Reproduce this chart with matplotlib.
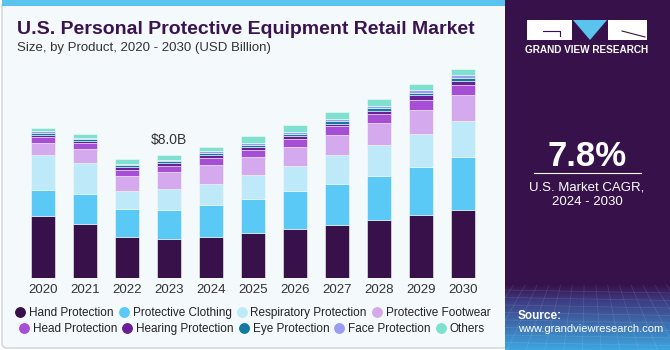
import numpy as np
import matplotlib.pyplot as plt
from matplotlib.patches import Rectangle, Polygon, FancyBboxPatch
from matplotlib.lines import Line2D

plt.rcParams['font.family'] = ['Liberation Sans', 'DejaVu Sans']

years = ["2020", "2021", "2022", "2023", "2024", "2025",
         "2026", "2027", "2028", "2029", "2030"]

hand = [4.05, 3.52, 2.68, 2.50, 2.66, 2.89, 3.15, 3.46, 3.74, 4.06, 4.41]
clothing = [1.67, 1.90, 1.77, 1.93, 2.08, 2.25, 2.46, 2.66, 2.90, 3.14, 3.41]
respiratory = [2.23, 2.06, 1.21, 1.36, 1.38, 1.54, 1.67, 1.84, 1.99, 2.16, 2.36]
footwear = [0.78, 0.89, 0.97, 1.06, 1.19, 1.17, 1.23, 1.32, 1.43, 1.54, 1.69]
head = [0.39, 0.39, 0.39, 0.43, 0.48, 0.47, 0.52, 0.54, 0.58, 0.65, 0.67]
hearing = [0.13, 0.11, 0.17, 0.17, 0.15, 0.17, 0.17, 0.19, 0.21, 0.28, 0.24]
eye = [0.16, 0.11, 0.13, 0.13, 0.13, 0.15, 0.15, 0.17, 0.17, 0.19, 0.19]
face = [0.13, 0.11, 0.09, 0.10, 0.13, 0.13, 0.13, 0.13, 0.15, 0.17, 0.17]
others = [0.20, 0.26, 0.28, 0.30, 0.30, 0.41, 0.41, 0.45, 0.45, 0.41, 0.43]

names = ["Hand Protection", "Protective Clothing", "Respiratory Protection",
         "Protective Footwear", "Head Protection", "Hearing Protection",
         "Eye Protection", "Face Protection", "Others"]
colors = ["#38104a", "#5bc9f5", "#bde9f9", "#d5a9ed", "#a64fd6",
          "#6a1f99", "#127a9e", "#9a9cf5", "#7ee0cf"]
series = [hand, clothing, respiratory, footwear, head, hearing, eye, face, others]

label_year = "2023"
label_text = "$8.0B"

bg = "#f4f9fc"
dark = "#37124a"

W, H = 670, 350
fig = plt.figure(figsize=(6.7, 3.5), dpi=100)
fig.patch.set_facecolor("white")

# card backgrounds
fig.patches.append(FancyBboxPatch((2 / W, 2 / H), 506 / W, 346 / H,
                                  boxstyle="round,pad=0,rounding_size=0.01",
                                  transform=fig.transFigure, facecolor=bg,
                                  edgecolor="#cfd3d6", lw=1.0, zorder=0))
fig.patches.append(Rectangle((2 / W, 344 / H), 506 / W, 6 / H,
                             transform=fig.transFigure, facecolor="#5ac4ee",
                             edgecolor="none", zorder=1))

# bar chart
ax = fig.add_axes([22 / W, 1 - 278 / H, 462 / W, 216 / H])
ax.set_zorder(3)
ax.set_facecolor("none")
x = np.arange(len(years))
bottom = np.zeros(len(years))
for vals, col, name in zip(series, colors, names):
    ax.bar(x, vals, bottom=bottom, width=0.58, color=col, label=name,
           edgecolor=bg, linewidth=0.4)
    bottom += np.array(vals)

i = years.index(label_year)
ax.annotate(label_text, (x[i], bottom[i]), xytext=(0, 11), textcoords="offset points",
            ha="center", va="center", fontsize=10, color="#333333")

ax.set_xlim(-0.5, len(years) - 0.5)
ax.set_ylim(0, 14)
ax.set_xticks(x)
ax.set_xticklabels(years, fontsize=9.5, color="#333333")
ax.tick_params(axis="x", length=0, pad=4)
ax.set_yticks([])
for sp in ax.spines.values():
    sp.set_visible(False)

# titles
fig.text(17 / W, 1 - 30 / H, "U.S. Personal Protective Equipment Retail Market",
         fontsize=14, fontweight="bold", color="#3a1450", va="center", zorder=4)
fig.text(17 / W, 1 - 48 / H, "Size, by Product, 2020 - 2030 (USD Billion)",
         fontsize=9.5, color="#333333", va="center", zorder=4)

# legend in two rows
handles = [Line2D([], [], marker="o", ls="none", markersize=6.8,
                  markerfacecolor=c, markeredgecolor=c) for c in colors]
kw = dict(frameon=False, fontsize=8.5, handletextpad=0.35, columnspacing=0.45,
          handlelength=0.8, borderaxespad=0, borderpad=0, labelcolor="#222222")
leg1 = fig.legend(handles[:4], names[:4], ncol=4, loc="center",
                  bbox_to_anchor=(253 / W, 1 - 313 / H), **kw)
leg2 = fig.legend(handles[4:], names[4:], ncol=5, loc="center",
                  bbox_to_anchor=(252 / W, 1 - 329 / H), **kw)
leg1.set_zorder(4)
leg2.set_zorder(4)

# right panel
px = fig.add_axes([505 / W, 0, 165 / W, 1])
px.set_zorder(3)
top_c = np.array([0x37, 0x12, 0x4a]) / 255
mid_c = np.array([0x3d, 0x3a, 0x80]) / 255
bot_c = np.array([0x3e, 0xa6, 0xe0]) / 255
img = np.zeros((200, 1, 3))
for k, y in enumerate(np.linspace(280, 350, 200)):
    if y < 285:
        c = top_c
    elif y < 300:
        t = (y - 285) / 15
        c = top_c * (1 - t) + mid_c * t
    else:
        t = (y - 300) / 50
        c = mid_c * (1 - t) + bot_c * t
    img[k, 0] = c
px.add_patch(Rectangle((505, 0), 165, 282, facecolor=dark, edgecolor="none"))
px.imshow(img, extent=(505, 670, 350, 280), origin="upper", aspect="auto", zorder=1)
px.set_xlim(505, 670)
px.set_ylim(350, 0)
px.axis("off")
# faint grid texture
for yy in np.linspace(290, 350, 9):
    px.plot([505, 670], [yy, yy + 3], color="white", alpha=0.12, lw=0.5, zorder=2)
for xx in np.linspace(490, 690, 18):
    px.plot([xx, 587 + (xx - 587) * 1.6], [285, 350], color="white", alpha=0.12, lw=0.5, zorder=2)

# logo
px.add_patch(Rectangle((527, 20), 45, 20, facecolor="white", edgecolor="none", zorder=3))
px.plot([543, 560, 560], [31, 31, 36], color=dark, lw=0.8, zorder=4)
px.add_patch(Polygon([(573, 20), (607, 20), (590, 40)], closed=True,
                     facecolor="#5ac4ee", edgecolor="none", zorder=3))
px.add_patch(Rectangle((608, 20), 39, 20, facecolor="white", edgecolor="none", zorder=3))
px.plot([622, 645], [31, 37], color=dark, lw=0.8, zorder=4)
px.text(587, 50, "GRAND VIEW RESEARCH", color="white", fontsize=7.2,
        fontweight="bold", ha="center", va="center")

px.text(587, 157, "7.8%", color="white", fontsize=25, fontweight="bold",
        ha="center", va="center")
px.plot([534, 641], [173, 173], color="white", lw=0.8)
px.text(587, 187, "U.S. Market CAGR,", color="white", fontsize=9.5,
        ha="center", va="center")
px.text(587, 202, "2024 - 2030", color="white", fontsize=9.5,
        ha="center", va="center")
px.text(518, 316, "Source:", color="white", fontsize=8.5, fontweight="bold",
        va="center", zorder=5)
px.text(518, 329, "www.grandviewresearch.com", color="white", fontsize=8,
        va="center", zorder=5)

fig.savefig("out.png", dpi=100, facecolor=fig.get_facecolor())
